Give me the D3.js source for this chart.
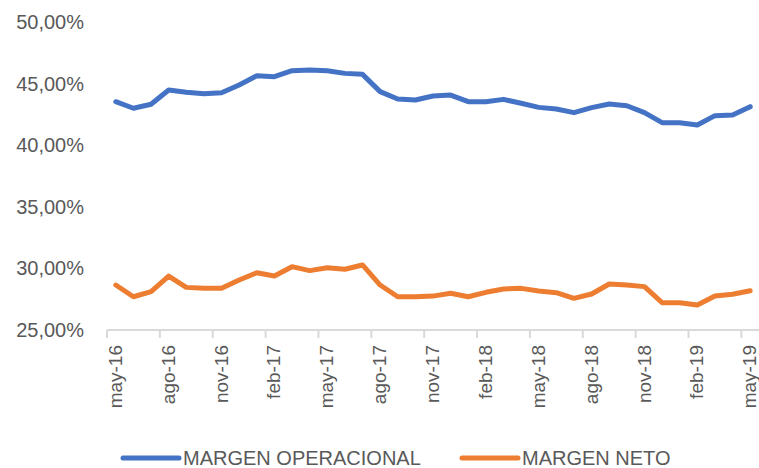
<!DOCTYPE html>
<html>
<head>
<meta charset="utf-8">
<script src="https://cdn.jsdelivr.net/npm/d3@7"></script>
<style>
  body { margin: 0; background: #fff; }
  text { font-family: "Liberation Sans", Arial, sans-serif; fill: #595959; }
</style>
</head>
<body>
<div id="chart"></div>
<script>
// meses (may-16 .. may-19)
const months = [
  "may-16","jun-16","jul-16","ago-16","sep-16","oct-16","nov-16","dic-16","ene-17","feb-17","mar-17","abr-17",
  "may-17","jun-17","jul-17","ago-17","sep-17","oct-17","nov-17","dic-17","ene-18","feb-18","mar-18","abr-18",
  "may-18","jun-18","jul-18","ago-18","sep-18","oct-18","nov-18","dic-18","ene-19","feb-19","mar-19","abr-19","may-19"
];
const margenOperacional = [
  43.53, 43.0, 43.32, 44.48, 44.29, 44.18, 44.26, 44.89, 45.64, 45.56, 46.05, 46.1,
  46.05, 45.83, 45.75, 44.35, 43.75, 43.67, 43.99, 44.07, 43.53, 43.53, 43.72, 43.4,
  43.07, 42.94, 42.64, 43.05, 43.34, 43.2, 42.64, 41.83, 41.83, 41.64, 42.4, 42.45, 43.13
];
const margenNeto = [
  28.65, 27.7, 28.11, 29.38, 28.46, 28.38, 28.38, 29.06, 29.65, 29.38, 30.14, 29.82,
  30.06, 29.93, 30.28, 28.65, 27.7, 27.7, 27.75, 27.98, 27.7, 28.06, 28.33, 28.38,
  28.17, 28.03, 27.57, 27.92, 28.73, 28.65, 28.52, 27.22, 27.22, 27.03, 27.76, 27.9, 28.19
];
const yTicks = [25, 30, 35, 40, 45, 50];
const series = [
  { name: "MARGEN OPERACIONAL", values: margenOperacional, color: "#4472C4" },
  { name: "MARGEN NETO", values: margenNeto, color: "#ED7D31" }
];

const width = 759, height = 468,
  margin = { top: 22, right: 0, bottom: 138, left: 107 };

const svg = d3.select("#chart").append("svg")
  .attr("width", width)
  .attr("height", height);

const x = d3.scaleBand()
  .domain(months)
  .range([margin.left, width - margin.right]);

const y = d3.scaleLinear()
  .domain([25, 50])
  .range([height - margin.bottom, margin.top]);

// eje y (solo etiquetas)
svg.append("g")
  .selectAll("text")
  .data(yTicks)
  .join("text")
  .attr("x", 84)
  .attr("y", d => y(d))
  .attr("dy", "0.35em")
  .attr("text-anchor", "end")
  .attr("font-size", "20px")
  .text(d => d3.format(".2f")(d).replace(".", ",") + "%");

// eje x
const xAxis = svg.append("g")
  .attr("transform", `translate(0,${y(25)})`);

xAxis.append("line")
  .attr("x1", margin.left)
  .attr("x2", width)
  .attr("stroke", "#d9d9d9")
  .attr("stroke-width", 2);

const tickIdx = months.map((m, i) => i).filter(i => i % 3 === 0);

xAxis.selectAll(".tick")
  .data(tickIdx)
  .join("line")
  .attr("class", "tick")
  .attr("x1", i => x(months[i]))
  .attr("x2", i => x(months[i]))
  .attr("y1", 0)
  .attr("y2", 8)
  .attr("stroke", "#d9d9d9")
  .attr("stroke-width", 2);

xAxis.selectAll(".lbl")
  .data(tickIdx)
  .join("text")
  .attr("class", "lbl")
  .attr("font-size", "19px")
  .attr("text-anchor", "end")
  .attr("transform", i => `translate(${x(months[i]) + x.bandwidth() / 2},15) rotate(-90)`)
  .attr("dy", "0.32em")
  .text(i => months[i]);

// lineas
const line = d3.line()
  .x((d, i) => x(months[i]) + x.bandwidth() / 2)
  .y(d => y(d));

svg.selectAll(".serie")
  .data(series)
  .join("path")
  .attr("class", "serie")
  .attr("fill", "none")
  .attr("stroke", d => d.color)
  .attr("stroke-width", 5)
  .attr("stroke-linejoin", "round")
  .attr("stroke-linecap", "round")
  .attr("d", d => line(d.values));

// leyenda
const legendPos = [123, 462];
const legend = svg.selectAll(".leg")
  .data(series)
  .join("g")
  .attr("class", "leg")
  .attr("transform", (d, i) => `translate(${legendPos[i]},458)`);

legend.append("line")
  .attr("x1", 0)
  .attr("x2", 56)
  .attr("stroke", d => d.color)
  .attr("stroke-width", 5)
  .attr("stroke-linecap", "round");

legend.append("text")
  .attr("x", 60)
  .attr("dy", "0.35em")
  .attr("font-size", "20px")
  .text(d => d.name);
</script>
</body>
</html>
